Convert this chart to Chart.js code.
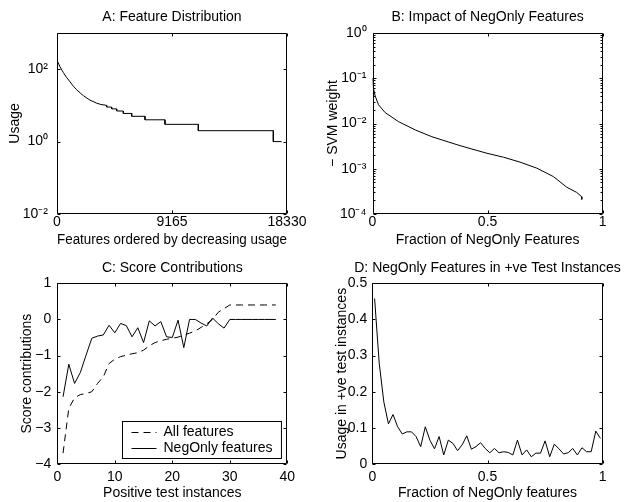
<!DOCTYPE html>
<html lang="en">
<head>
<meta charset="UTF-8">
<title>NegOnly features</title>
<script src="https://cdn.jsdelivr.net/npm/chart.js"></script>
<style>
  body { margin: 0; background: #fff; }
  .fig { position: relative; width: 629px; height: 502px; overflow: hidden; }
  .fig canvas { position: absolute; }
</style>
</head>
<body>
<div class="fig">
  <canvas id="chartA" width="314" height="251" style="left:0;top:0"></canvas>
  <canvas id="chartB" width="315" height="251" style="left:314px;top:0"></canvas>
  <canvas id="chartC" width="314" height="251" style="left:0;top:251px"></canvas>
  <canvas id="chartD" width="315" height="251" style="left:314px;top:251px"></canvas>
</div>
<script>
// A: feature usage, features sorted by decreasing usage
const featRank  = [0, 20, 250, 502, 750, 1036, 1300, 1570, 1850, 2100, 2630, 3164, 3500, 3960, 3960, 4359, 4359, 4758, 4758, 5284, 5284, 5953, 5953, 7013, 7013, 8607, 8607, 11262, 11262, 17240, 17240, 17900];
const featUsage = [180, 169, 115, 81, 60, 45, 34, 27, 22, 18.6, 14, 11.5, 10.6, 10, 9, 9, 8, 8, 7, 7, 6, 6, 5, 5, 4, 4, 3, 3, 2, 2, 1, 1];
const aXTicks = [0, 9165, 18330];
const aYTicks = [1e-2, 1, 1e2];

// B: -SVM weight of NegOnly features
const negFrac   = [0, 0.004, 0.012, 0.026, 0.055, 0.113, 0.186, 0.258, 0.367, 0.424, 0.497, 0.569, 0.641, 0.714, 0.786, 0.844, 0.887, 0.909, 0.909];
const negWeight = [0.1, 0.06, 0.04, 0.026, 0.0174, 0.011, 0.0072, 0.0051, 0.0034, 0.0028, 0.0022, 0.0018, 0.0014, 0.00103, 0.00067, 0.00039, 0.0003, 0.00024, 0.00021];
const bXTicks = [0, 0.5, 1];
const bYTicks = [1e-4, 1e-3, 1e-2, 1e-1, 1];

// C: score contributions per positive test instance
const testIdx  = [1, 2, 3, 4, 5, 6, 7, 8, 9, 10, 11, 12, 13, 14, 15, 16, 17, 18, 19, 20, 21, 22, 23, 24, 25, 26, 27, 28, 29, 30, 31, 32, 33, 34, 35, 36, 37, 38];
const allFeat  = [-3.7, -2.46, -2.17, -2.08, -2.05, -2.0, -1.77, -1.59, -1.22, -1.1, -1.03, -0.99, -0.95, -0.92, -0.85, -0.73, -0.64, -0.59, -0.55, -0.52, -0.49, -0.43, -0.38, -0.32, -0.22, -0.12, 0.0, 0.2, 0.3, 0.4, 0.4, 0.4, 0.4, 0.4, 0.4, 0.4, 0.4, 0.4];
const negOnly  = [-2.14, -1.24, -1.77, -1.47, -0.99, -0.52, -0.46, -0.43, -0.16, -0.37, -0.11, -0.17, -0.48, -0.23, -0.64, -0.04, -0.18, -0.06, -0.48, -0.5, -0.02, -0.78, 0.0, 0.0, -0.1, -0.18, 0.04, -0.12, -0.24, 0, 0, 0, 0, 0, 0, 0, 0, 0];
const cXTicks = [0, 10, 20, 30, 40];
const cYTicks = [-4, -3, -2, -1, 0, 1];

// D: NegOnly feature usage in +ve test instances
const dFrac  = [0.01, 0.03, 0.05, 0.07, 0.09, 0.11, 0.13, 0.15, 0.17, 0.19, 0.21, 0.23, 0.25, 0.27, 0.29, 0.31, 0.33, 0.35, 0.37, 0.39, 0.41, 0.43, 0.45, 0.47, 0.49, 0.51, 0.53, 0.55, 0.57, 0.59, 0.61, 0.63, 0.65, 0.67, 0.69, 0.71, 0.73, 0.75, 0.77, 0.79, 0.81, 0.83, 0.85, 0.87, 0.89, 0.91, 0.93, 0.95, 0.97, 0.99];
const dUsage = [0.458, 0.279, 0.172, 0.111, 0.137, 0.103, 0.083, 0.089, 0.089, 0.076, 0.048, 0.103, 0.066, 0.042, 0.076, 0.025, 0.066, 0.057, 0.037, 0.053, 0.078, 0.041, 0.048, 0.059, 0.043, 0.031, 0.043, 0.031, 0.034, 0.032, 0.025, 0.066, 0.025, 0.039, 0.02, 0.03, 0.03, 0.064, 0.02, 0.055, 0.042, 0.028, 0.031, 0.043, 0.025, 0.045, 0.034, 0.034, 0.091, 0.071];
const dXTicks = [0, 0.5, 1];
const dYTicks = [0, 0.1, 0.2, 0.3, 0.4, 0.5];

const FONT = '"Liberation Sans", Arial, Helvetica, sans-serif';
Chart.defaults.font.family = FONT;
Chart.defaults.font.size = 14;
Chart.defaults.color = '#000';

const supChars = {'0':'⁰','1':'¹','2':'²','3':'³','4':'⁴','5':'⁵','6':'⁶','7':'⁷','8':'⁸','9':'⁹','-':'⁻'};
function pow10Label(v) {
  const e = String(Math.round(Math.log10(v)));
  return '10' + e.split('').map(c => supChars[c]).join('');
}
function plainLabel(v) { return String(v).replace('-', '\u2212'); }

// closed axes box with inward tick marks on all four sides
const boxPlugin = {
  id: 'box',
  afterDraw(chart, args, opts) {
    const {ctx, chartArea: a, scales} = chart;
    const L = Math.round(a.left) + 0.5, R = Math.round(a.right) - 0.5;
    const T = Math.round(a.top) + 0.5, B = Math.round(a.bottom) - 0.5;
    ctx.save();
    ctx.strokeStyle = '#000';
    ctx.lineWidth = 1;
    ctx.beginPath();
    ctx.rect(L, T, R - L, B - T);
    const len = 3;
    scales.x.ticks.forEach(t => {
      const px = Math.round(scales.x.getPixelForValue(t.value)) + 0.5;
      ctx.moveTo(px, B); ctx.lineTo(px, B - len);
      ctx.moveTo(px, T); ctx.lineTo(px, T + len);
    });
    const yTick = (v, l) => {
      const py = Math.round(scales.y.getPixelForValue(v)) + 0.5;
      ctx.moveTo(L, py); ctx.lineTo(L + l, py);
      ctx.moveTo(R, py); ctx.lineTo(R - l, py);
    };
    scales.y.ticks.forEach(t => yTick(t.value, len));
    if (opts.minorLog) {
      const e0 = Math.round(Math.log10(scales.y.min)), e1 = Math.round(Math.log10(scales.y.max));
      for (let e = e0; e < e1; e++) {
        for (let k = 2; k < 10; k++) yTick(k * Math.pow(10, e), 2);
      }
    }
    ctx.stroke();
    ctx.restore();
  }
};

// the title stays centred on the axes but may run wider than them
const wideTitle = {
  id: 'wideTitle',
  afterLayout(chart) {
    const t = chart.titleBlock, a = chart.chartArea;
    if (!t) return;
    const mid = (a.left + a.right) / 2;
    t.left = mid - chart.width;
    t.right = mid + chart.width;
  }
};
Chart.register(boxPlugin, wideTitle);

// boxed legend in the lower right corner of the axes (panel C)
const boxLegend = {
  id: 'boxLegend',
  afterDraw(chart) {
    const {ctx, chartArea: a} = chart;
    const sets = chart.data.datasets;
    ctx.save();
    ctx.font = '14px ' + FONT;
    const textW = Math.max(...sets.map(d => ctx.measureText(d.label).width));
    const w = 9 + 25 + 7 + textW + 9, h = sets.length * 16 + 5;
    const x = Math.round(a.right - 6 - w) + 0.5, y = Math.round(a.bottom - 6 - h) + 0.5;
    ctx.fillStyle = '#fff';
    ctx.fillRect(x, y, w, h);
    ctx.strokeStyle = '#000';
    ctx.lineWidth = 1;
    ctx.strokeRect(x, y, w, h);
    sets.forEach((d, i) => {
      const cy = Math.round(y + 10 + i * 16) + 0.5;
      ctx.setLineDash(d.borderDash || []);
      ctx.beginPath();
      ctx.moveTo(x + 9, cy);
      ctx.lineTo(x + 34, cy);
      ctx.stroke();
      ctx.setLineDash([]);
      ctx.fillStyle = '#000';
      ctx.textBaseline = 'middle';
      ctx.fillText(d.label, x + 41, cy);
    });
    ctx.restore();
  }
};

function series(label, xs, ys, dash) {
  return {
    label: label,
    data: xs.map((x, i) => ({x: x, y: ys[i]})),
    showLine: true,
    borderColor: '#000',
    borderWidth: 1,
    borderDash: dash || [],
    pointRadius: 0,
    fill: false
  };
}

function axis(o) {
  return {
    type: o.type || 'linear',
    min: o.min,
    max: o.max,
    grid: { display: false, drawTicks: false },
    border: { display: false },
    afterBuildTicks: s => { s.ticks = o.ticks.map(v => ({value: v})); },
    afterFit: s => { if (o.width) s.width = o.width; if (o.height) s.height = o.height; },
    ticks: { autoSkip: false, maxRotation: 0, padding: o.pad, callback: o.label || plainLabel },
    title: { display: true, text: o.title, padding: o.titlePad }
  };
}

function plot(id, o) {
  return new Chart(document.getElementById(id), {
    type: 'scatter',
    data: { datasets: o.datasets },
    options: {
      responsive: false,
      animation: false,
      layout: { padding: { left: 0, right: o.padRight, top: 0, bottom: 0 } },
      plugins: {
        legend: { display: false },
        tooltip: { enabled: false },
        title: {
          display: true, text: o.title, fullSize: false,
          font: { size: 14, weight: 'normal' }, padding: { top: 9, bottom: o.titleGap }
        },
        box: { minorLog: !!o.minorLog }
      },
      scales: { x: o.x, y: o.y }
    },
    plugins: o.plugins || []
  });
}

plot('chartA', {
  title: 'A: Feature Distribution', titleGap: 7.2, padRight: 27,
  datasets: [series('Usage', featRank, featUsage)],
  x: axis({ min: 0, max: 18330, ticks: aXTicks, height: 37, pad: 0,
            title: 'Features ordered by decreasing usage', titlePad: {top: 0, bottom: 2.6} }),
  y: axis({ type: 'logarithmic', min: 1e-2, max: 1e3, ticks: aYTicks, width: 57, pad: 9, label: pow10Label,
            title: 'Usage', titlePad: {top: 6.6, bottom: 0} })
});

plot('chartB', {
  title: 'B: Impact of NegOnly Features', titleGap: 7.2, padRight: 26.3, minorLog: true,
  datasets: [series('- SVM weight', negFrac, negWeight)],
  x: axis({ min: 0, max: 1, ticks: bXTicks, height: 37, pad: 0,
            title: 'Fraction of NegOnly Features', titlePad: {top: 0, bottom: 2} }),
  y: axis({ type: 'logarithmic', min: 1e-4, max: 1, ticks: bYTicks, width: 58.5, pad: 6, label: pow10Label,
            title: '\u2212 SVM weight', titlePad: {top: 10.3, bottom: 0} })
});

plot('chartC', {
  title: 'C: Score Contributions', titleGap: 6.5, padRight: 26.7,
  datasets: [series('All features', testIdx, allFeat, [7, 5]), series('NegOnly features', testIdx, negOnly)],
  x: axis({ min: 0, max: 40, ticks: cXTicks, height: 38, pad: 5,
            title: 'Positive test instances', titlePad: {top: 0, bottom: 0.9} }),
  y: axis({ min: -4, max: 1, ticks: cYTicks, width: 57.3, pad: 6,
            title: 'Score contributions', titlePad: {top: 18.3, bottom: 0} }),
  plugins: [boxLegend]
});

plot('chartD', {
  title: 'D: NegOnly Features in +ve Test Instances', titleGap: 6.5, padRight: 26.3,
  datasets: [series('Usage', dFrac, dUsage)],
  x: axis({ min: 0, max: 1, ticks: dXTicks, height: 38, pad: 5,
            title: 'Fraction of NegOnly features', titlePad: {top: 0, bottom: 0.9} }),
  y: axis({ min: 0, max: 0.5, ticks: dYTicks, width: 58.3, pad: 5,
            title: 'Usage in +ve test instances', titlePad: {top: 19.3, bottom: 0} })
});
</script>
</body>
</html>
